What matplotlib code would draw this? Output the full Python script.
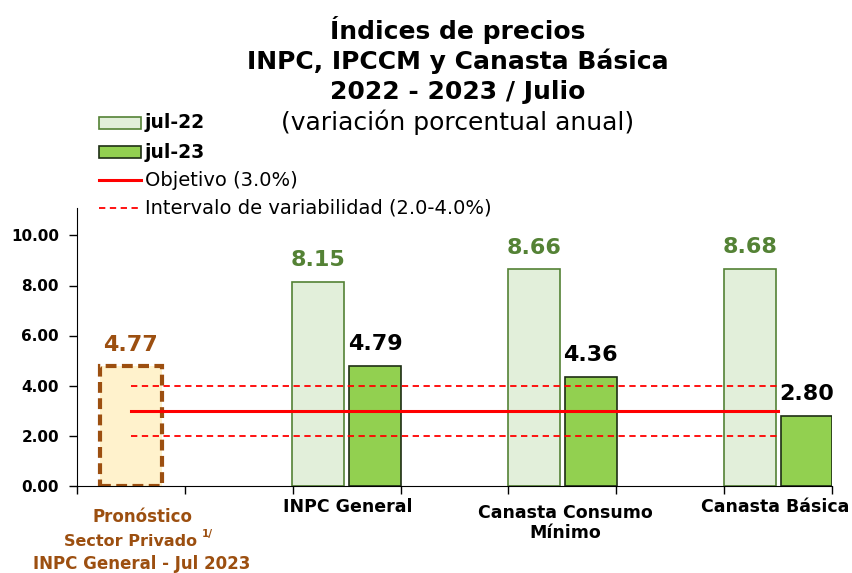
import numpy as np
import matplotlib
matplotlib.use('Agg')
import matplotlib.pyplot as plt
from matplotlib.patches import Rectangle
from matplotlib.lines import Line2D

# data
categorias = ['INPC General', 'Canasta Consumo\nMínimo', 'Canasta Básica']
jul22 = [8.15, 8.66, 8.68]
jul23 = [4.79, 4.36, 2.80]
pronostico = 4.77
objetivo = 3.0
intervalo = (2.0, 4.0)
yticks = [0, 2, 4, 6, 8, 10]

W, H = 853, 573
fig = plt.figure(figsize=(W / 100, H / 100), dpi=100)
ax = fig.add_axes([77 / W, (H - 485.5) / H, 755 / W, 277.5 / H])

font = 'DejaVu Sans'
brown = '#9c4f10'
dkgreen = '#548235'
light = '#e2efda'
green = '#92d050'
edge23 = '#1e2e14'

x = np.arange(1, 4)
bw = 0.24
off = 0.1315

ax.bar(0, pronostico, width=0.287, color='#fff2cc', edgecolor=brown,
       linewidth=3, linestyle=(0, (2.6, 1.3)), zorder=2)
ax.bar(x - off, jul22, width=bw, color=light, edgecolor=dkgreen,
       linewidth=1.2, zorder=2)
ax.bar(x + off, jul23, width=bw, color=green, edgecolor=edge23,
       linewidth=1.2, zorder=2)

xl = [0, 3]
ax.plot(xl, [objetivo] * 2, color='red', lw=2.2, zorder=3)
for v in intervalo:
    ax.plot(xl, [v] * 2, color='red', lw=1.3, ls=(0, (3.5, 2.5)), zorder=3)

# value labels
ax.text(0, pronostico + 0.45, f'{pronostico:.2f}', ha='center', va='bottom',
        color=brown, fontsize=16, weight='bold', family=font)
for xc, v in zip(x - off, jul22):
    ax.text(xc, v + 0.45, f'{v:.2f}', ha='center', va='bottom',
            color=dkgreen, fontsize=16, weight='bold', family=font)
for xc, v in zip(x + off, jul23):
    ax.text(xc, v + 0.45, f'{v:.2f}', ha='center', va='bottom',
            color='black', fontsize=16, weight='bold', family=font)

ax.set_xlim(-0.2477, 3.2477)
ax.set_ylim(0, 11.1)
ax.set_yticks(yticks)
ax.set_yticklabels([f'{t:.2f}' for t in yticks], fontsize=11,
                   weight='bold', family=font)
ax.set_xticks(np.arange(-0.25, 3.3, 0.5))
ax.set_xticklabels([])
ax.tick_params(axis='both', direction='out', length=6, width=1)
ax.tick_params(axis='y', pad=7)
for s in ['top', 'right']:
    ax.spines[s].set_visible(False)


def ftxt(px, py, s, **kw):
    fig.text(px / W, 1 - py / H, s, **kw)


# category labels
ftxt(348, 507, categorias[0], ha='center', va='center', fontsize=12.5,
     weight='bold', family=font)
ftxt(565, 523, categorias[1], ha='center', va='center', fontsize=12.5,
     weight='bold', family=font, linespacing=1.15)
ftxt(775, 507, categorias[2], ha='center', va='center', fontsize=12.5,
     weight='bold', family=font)
ftxt(143, 517, 'Pronóstico', ha='center', va='center', fontsize=12,
     weight='bold', color=brown, family=font)
ftxt(131, 542, 'Sector Privado', ha='center', va='center', fontsize=11.5,
     weight='bold', color=brown, family=font)
ftxt(202, 534, '1/', ha='left', va='center', fontsize=7.5,
     weight='bold', color=brown, family=font)
ftxt(142, 564, 'INPC General - Jul 2023', ha='center', va='center', fontsize=12,
     weight='bold', color=brown, family=font)

# title
for py, s, wt in [(30, 'Índices de precios', 'bold'),
                  (61, 'INPC, IPCCM y Canasta Básica', 'bold'),
                  (92, '2022 - 2023 / Julio', 'bold'),
                  (122, '(variación porcentual anual)', 'normal')]:
    ftxt(458, py, s, ha='center', va='center', fontsize=18, weight=wt,
         family=font)

# legend (drawn in figure pixels)
def fx(px):
    return px / W


def fy(py):
    return 1 - py / H


fig.patches.append(Rectangle((fx(99), fy(129)), 42 / W, 12 / H, facecolor=light,
                             edgecolor=dkgreen, lw=1.2, transform=fig.transFigure))
fig.patches.append(Rectangle((fx(99), fy(158)), 42 / W, 12 / H, facecolor=green,
                             edgecolor=edge23, lw=1.2, transform=fig.transFigure))
fig.lines.append(Line2D([fx(99), fx(141)], [fy(180)] * 2, color='red', lw=2.2,
                        transform=fig.transFigure))
fig.lines.append(Line2D([fx(99), fx(141)], [fy(208)] * 2, color='red', lw=1.3,
                        ls=(0, (3.5, 2.5)), transform=fig.transFigure))
ftxt(145, 123, 'jul-22', ha='left', va='center', fontsize=13.5, weight='bold',
     family=font)
ftxt(145, 152, 'jul-23', ha='left', va='center', fontsize=13.5, weight='bold',
     family=font)
ftxt(145, 180, 'Objetivo (3.0%)', ha='left', va='center', fontsize=14,
     family=font)
ftxt(145, 208, 'Intervalo de variabilidad (2.0-4.0%)', ha='left', va='center',
     fontsize=14, family=font)

fig.savefig('out.png', dpi=100)
